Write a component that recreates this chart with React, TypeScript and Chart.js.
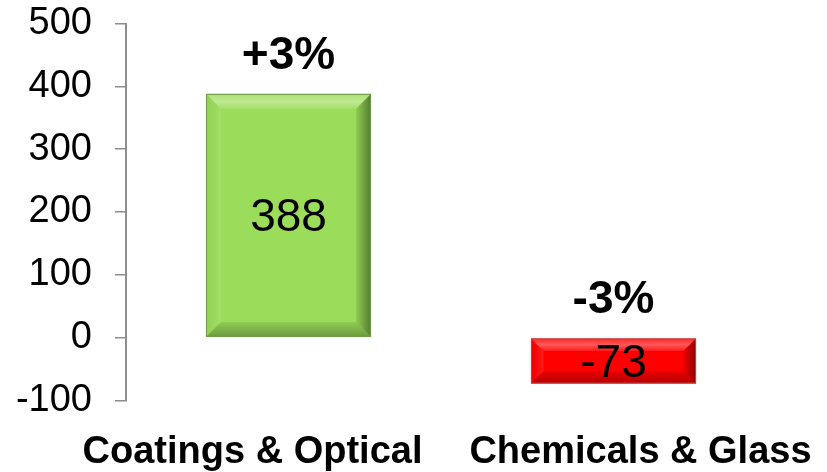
import React, { useEffect, useRef } from "react";
import { Chart, registerables } from "chart.js";

Chart.register(...registerables);

const categories = ["Coatings & Optical", "Chemicals & Glass"];
const values = [388, -73];
const changes = ["+3%", "-3%"];
const yMin = -100;
const yMax = 500;
const yStep = 100;

const FONT = "'Liberation Sans', Arial, sans-serif";
const barColors = ["#9bdd5a", "#ff0000"];
const borderColors = ["#6f9a4a", "#c04040"];
const catLabelOffsets = [-36, 27];

const bevelPlugin = {
  id: "bevel",
  afterDatasetsDraw(chart: any) {
    const ctx = chart.ctx;
    const meta = chart.getDatasetMeta(0);
    meta.data.forEach((bar: any, i: number) => {
      const { x, y, base, width } = bar.getProps(["x", "y", "base", "width"], true);
      const l = x - width / 2;
      const r = x + width / 2;
      const t = Math.min(y, base);
      const bt = Math.max(y, base);
      const h = bt - t;
      const b = Math.min(15, h / 3.6);
      ctx.save();
      const poly = (pts: number[][], fill: any) => {
        ctx.beginPath();
        ctx.moveTo(pts[0][0], pts[0][1]);
        for (let k = 1; k < pts.length; k++) ctx.lineTo(pts[k][0], pts[k][1]);
        ctx.closePath();
        ctx.fillStyle = fill;
        ctx.fill();
      };
      const gTop = ctx.createLinearGradient(0, t, 0, t + b);
      gTop.addColorStop(0, "rgba(255,255,255,0.15)");
      gTop.addColorStop(0.5, "rgba(255,255,255,0.35)");
      gTop.addColorStop(1, "rgba(255,255,255,0.1)");
      poly([[l, t], [r, t], [r - b, t + b], [l + b, t + b]], gTop);
      const gL = ctx.createLinearGradient(l, 0, l + b, 0);
      gL.addColorStop(0, "rgba(0,0,0,0.05)");
      gL.addColorStop(1, "rgba(255,255,255,0.1)");
      poly([[l, t], [l + b, t + b], [l + b, bt - b], [l, bt]], gL);
      const gR = ctx.createLinearGradient(r - b, 0, r, 0);
      gR.addColorStop(0, "rgba(0,0,0,0.08)");
      gR.addColorStop(1, "rgba(0,0,0,0.45)");
      poly([[r, t], [r, bt], [r - b, bt - b], [r - b, t + b]], gR);
      const gB = ctx.createLinearGradient(0, bt - b, 0, bt);
      gB.addColorStop(0, "rgba(0,0,0,0.08)");
      gB.addColorStop(1, "rgba(0,0,0,0.3)");
      poly([[l, bt], [r, bt], [r - b, bt - b], [l + b, bt - b]], gB);
      ctx.lineWidth = 1;
      ctx.strokeStyle = borderColors[i];
      ctx.strokeRect(l + 0.5, t + 0.5, width - 1, h - 1);
      ctx.restore();
    });
  },
};

const labelsPlugin = {
  id: "labels",
  afterDraw(chart: any) {
    const ctx = chart.ctx;
    const meta = chart.getDatasetMeta(0);
    const xScale = chart.scales.x;
    ctx.save();
    ctx.fillStyle = "#000";
    meta.data.forEach((bar: any, i: number) => {
      const { x, y, base } = bar.getProps(["x", "y", "base"], true);
      const t = Math.min(y, base);
      const bt = Math.max(y, base);
      ctx.font = `46px ${FONT}`;
      ctx.textAlign = "center";
      ctx.textBaseline = "middle";
      ctx.fillText(String(values[i]), x, (t + bt) / 2 + 3);
      ctx.font = `bold 46px ${FONT}`;
      ctx.fillText(changes[i], x, t - 38);
      ctx.font = `bold 38px ${FONT}`;
      ctx.textBaseline = "alphabetic";
      const cx = xScale.getPixelForValue(i) + catLabelOffsets[i];
      ctx.fillText(categories[i], cx, 463);
    });
    ctx.restore();
  },
};

export default function App() {
  const ref = useRef<HTMLCanvasElement>(null);
  useEffect(() => {
    if (!ref.current) return;
    const chart = new Chart(ref.current, {
      type: "bar",
      data: {
        labels: categories,
        datasets: [
          {
            data: values,
            backgroundColor: barColors,
            borderWidth: 0,
            categoryPercentage: 1,
            barPercentage: 0.508,
          },
        ],
      },
      options: {
        animation: false,
        responsive: false,
        layout: { padding: { top: 23.5, bottom: 71.5, right: 51, left: 0 } },
        plugins: { legend: { display: false }, tooltip: { enabled: false } },
        scales: {
          x: { display: false, offset: true },
          y: {
            min: yMin,
            max: yMax,
            ticks: {
              stepSize: yStep,
              font: { size: 38, family: FONT },
              color: "#000",
              padding: 23,
            },
            grid: {
              drawOnChartArea: false,
              drawTicks: true,
              tickLength: 11,
              color: "#8c8c8c",
              lineWidth: 1.5,
            },
            border: { display: true, color: "#8c8c8c", width: 2 },
            afterFit: (s: any) => {
              s.width = 126;
              s.paddingTop = 0;
              s.paddingBottom = 0;
            },
          },
        },
      },
      plugins: [bevelPlugin, labelsPlugin],
    });
    return () => chart.destroy();
  }, []);
  return (
    <div style={{ position: "fixed", left: 0, top: 0, width: 827, height: 472, background: "#fff" }}>
      <canvas ref={ref} width={827} height={472} style={{ display: "block" }} />
    </div>
  );
}
